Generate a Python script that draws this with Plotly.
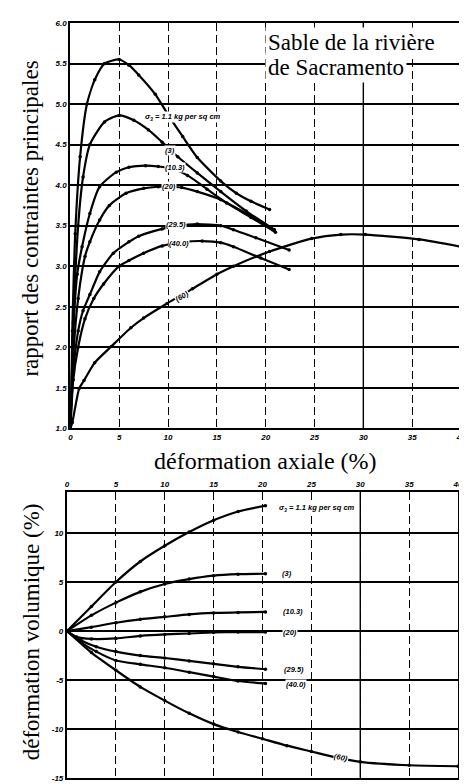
import plotly.graph_objects as go

# ---------------- data: top panel (principal stress ratio vs axial strain, %) ----------------
r11_x = [0, 0.2, 0.5, 1.0, 1.7, 2.5, 3.5, 5.0, 6.0, 7.0, 8.7, 10.0, 11.5, 13.0, 15.4, 17.0, 18.5, 20.4]
r11_y = [1.0, 2.2, 3.4, 4.35, 5.0, 5.3, 5.5, 5.55, 5.48, 5.36, 5.12, 4.87, 4.6, 4.34, 4.05, 3.9, 3.8, 3.70]
r3_x = [0, 0.3, 0.8, 1.3, 2.0, 3.5, 5.0, 6.5, 8.0, 9.4, 11.0, 13.0, 15.4, 18.0, 20.9]
r3_y = [1.0, 2.3, 3.5, 4.1, 4.5, 4.78, 4.86, 4.8, 4.68, 4.53, 4.35, 4.15, 3.92, 3.68, 3.45]
r10_x = [0, 0.3, 0.7, 1.2, 2.0, 3.0, 4.7, 6.0, 7.7, 9.0, 10.5, 12.0, 14.0, 16.0, 18.5, 21.0]
r10_y = [1.0, 2.2, 2.9, 3.24, 3.65, 3.98, 4.16, 4.22, 4.24, 4.23, 4.2, 4.12, 3.95, 3.78, 3.6, 3.42]
r20_x = [0, 0.3, 0.8, 1.5, 2.0, 3.0, 4.0, 5.7, 7.5, 9.0, 10.0, 11.4, 13.0, 15.4, 18.0, 20.7]
r20_y = [1.0, 1.9, 2.6, 3.12, 3.3, 3.57, 3.75, 3.9, 3.96, 3.98, 3.98, 3.97, 3.92, 3.82, 3.65, 3.45]
r29_x = [0, 0.3, 0.8, 1.3, 2.0, 3.0, 4.4, 6.0, 7.0, 9.4, 11.0, 13.0, 15.4, 16.7, 19.0, 22.4]
r29_y = [1.0, 1.7, 2.2, 2.45, 2.65, 2.93, 3.16, 3.3, 3.37, 3.46, 3.5, 3.52, 3.5, 3.45, 3.35, 3.2]
r40_x = [0, 0.3, 0.8, 1.5, 2.4, 3.4, 5.0, 6.0, 7.5, 9.4, 11.7, 13.5, 15.4, 16.7, 19.5, 22.4]
r40_y = [1.0, 1.6, 2.0, 2.35, 2.6, 2.78, 3.0, 3.07, 3.16, 3.25, 3.3, 3.31, 3.29, 3.24, 3.1, 2.96]
r60_x = [0, 0.2, 0.9, 1.4, 2.5, 4.2, 6.2, 7.5, 9.9, 12.5, 15.0, 16.7, 20.4, 24.7, 27.7, 30.2, 35.7, 40.0]
r60_y = [1.0, 1.07, 1.49, 1.59, 1.81, 2.01, 2.24, 2.36, 2.54, 2.72, 2.9, 3.0, 3.18, 3.34, 3.39, 3.39, 3.33, 3.24]

# ---------------- data: bottom panel (volumetric strain, %) ----------------
v_x = [0, 2.5, 5.0, 7.5, 10.0, 12.5, 15.0, 17.5, 20.3]
v11_y = [0, 2.5, 5.0, 7.1, 8.7, 10.1, 11.3, 12.2, 12.8]
v3_y = [0, 1.6, 2.9, 4.0, 4.8, 5.3, 5.65, 5.8, 5.85]
v10_y = [0, 0.4, 0.85, 1.2, 1.45, 1.7, 1.85, 1.9, 1.95]
v20_x = [0, 1.0, 2.5, 5.0, 7.5, 10.0, 12.5, 15.0, 17.5, 20.3]
v20_y = [0, -0.6, -0.8, -0.75, -0.5, -0.35, -0.25, -0.15, -0.1, -0.1]
v29_x = [0, 1.5, 3.0, 5.0, 7.5, 10.0, 12.5, 15.0, 17.5, 20.3]
v29_y = [0, -1.0, -1.6, -2.1, -2.5, -2.75, -3.05, -3.35, -3.65, -3.9]
v40_y = [0, -1.2, -2.1, -3.0, -3.4, -3.75, -4.2, -4.65, -5.1, -5.35]
v60_x = [0, 2.5, 5.0, 7.5, 10.0, 12.5, 15.0, 17.5, 20.0, 22.5, 25.0, 27.5, 30.0, 35.0, 40.0]
v60_y = [0, -2.2, -4.0, -5.7, -7.1, -8.4, -9.5, -10.3, -11.0, -11.7, -12.3, -12.9, -13.35, -13.7, -13.8]

# ---------------- labels / ticks ----------------
series_labels = ["σ<sub>3</sub> = 1.1 kg per sq cm", "(3)", "(10.3)", "(20)", "(29.5)", "(40.0)", "(60)"]
x_ticks = [0, 5, 10, 15, 20, 25, 30, 35, 40]
top_y_ticks = [1.0, 1.5, 2.0, 2.5, 3.0, 3.5, 4.0, 4.5, 5.0, 5.5, 6.0]
top_y_text = ["1.0", "1.5", "2.0", "2.5", "3.0", "3.5", "4.0", "4.5", "5.0", "5.5", "6.0"]
bot_y_ticks = [-15, -10, -5, 0, 5, 10]
bot_y_text = ["-15", "-10", "-5", "0", "5", "10"]
title_lines = ["Sable de la rivière", "de Sacramento"]
y_title_top = "rapport des contraintes principales"
x_title = "déformation axiale (%)"
y_title_bot = "déformation volumique (%)"

fig = go.Figure()

def add_curve(x, y, xa, ya):
    fig.add_trace(go.Scatter(
        x=x, y=y, xaxis=xa, yaxis=ya, mode="lines+markers",
        line=dict(color="black", width=2.2, shape="spline", smoothing=0.6),
        marker=dict(color="black", size=3.5), showlegend=False, hoverinfo="skip"))

for xs, ys in [(r11_x, r11_y), (r3_x, r3_y), (r10_x, r10_y), (r20_x, r20_y),
               (r29_x, r29_y), (r40_x, r40_y), (r60_x, r60_y)]:
    add_curve(xs, ys, "x", "y")

for xs, ys in [(v_x, v11_y), (v_x, v3_y), (v_x, v10_y), (v20_x, v20_y),
               (v29_x, v29_y), (v29_x, v40_y), (v60_x, v60_y)]:
    add_curve(xs, ys, "x2", "y2")

tickfont = dict(family="Liberation Sans", size=8, color="black", weight="bold", style="italic")
axis_common = dict(showline=True, linecolor="black", linewidth=2.2, mirror=True,
                   zeroline=False, ticks="", tickfont=tickfont, ticklabeloverflow="allow")

fig.update_layout(
    width=467, height=784,
    margin=dict(l=58, r=11, t=15, b=9),
    paper_bgcolor="white", plot_bgcolor="white",
    xaxis=dict(domain=[0.011, 1.0], range=[0, 40], anchor="y",
               tickvals=x_ticks, showgrid=True, gridcolor="black", gridwidth=1.4,
               griddash="8px,4px", **axis_common),
    yaxis=dict(domain=[0.4632, 1.0], range=[1.0, 6.0], anchor="x",
               tickvals=top_y_ticks, ticktext=top_y_text, showgrid=True,
               gridcolor="black", gridwidth=1.7, **axis_common),
    xaxis2=dict(domain=[0.0025, 0.9925], range=[0, 40], anchor="y2", side="top",
                tickvals=x_ticks, showgrid=True, gridcolor="black", gridwidth=1.4,
                griddash="8px,4px", **axis_common),
    yaxis2=dict(domain=[0.0, 0.3789], range=[-15, 14.2], anchor="x2",
                tickvals=bot_y_ticks, ticktext=bot_y_text, showgrid=True,
                gridcolor="black", gridwidth=1.7, **axis_common),
)

# solid vertical line at 30 (heavier grid line in original)
for xr, yr, y0, y1 in [("x", "y", 1.0, 6.0), ("x2", "y2", -15, 14.2)]:
    fig.add_shape(type="line", xref=xr, yref=yr, x0=30, x1=30, y0=y0, y1=y1,
                  line=dict(color="black", width=1.4), layer="below")

lab_font = dict(family="Liberation Sans", size=7.5, color="black", weight="bold", style="italic")

# curve labels, top panel: (x, y, angle, xanchor)
top_lab_pos = [(7.5, 4.84, 0, "left"), (10.2, 4.43, 0, "center"), (10.7, 4.22, 0, "center"),
               (10.1, 3.98, 0, "center"), (10.8, 3.51, 0, "center"), (11.1, 3.28, 0, "center"),
               (11.4, 2.63, -30, "center")]
for txt, (lx, ly, ang, xa) in zip(series_labels, top_lab_pos):
    fig.add_annotation(x=lx, y=ly, xref="x", yref="y", text=txt, showarrow=False,
                       font=lab_font, bgcolor="white", borderpad=0, textangle=ang, xanchor=xa)

bot_lab_pos = [(21.6, 12.6, 0, "left"), (21.9, 5.85, 0, "left"), (22.0, 1.95, 0, "left"),
               (22.0, -0.1, 0, "left"), (22.1, -3.95, 0, "left"), (22.3, -5.45, 0, "left"),
               (28.0, -12.9, 12, "center")]
for txt, (lx, ly, ang, xa) in zip(series_labels, bot_lab_pos):
    fig.add_annotation(x=lx, y=ly, xref="x2", yref="y2", text=txt, showarrow=False,
                       font=lab_font, bgcolor="white", borderpad=0, textangle=ang, xanchor=xa)

serif = "Liberation Serif"
# title box (white background breaks the grid, as in the original)
for txt, ty in zip(title_lines, [5.76, 5.45]):
    fig.add_annotation(x=19.9, y=ty, xref="x", yref="y", text=txt, showarrow=False,
                       xanchor="left", yanchor="middle", align="left", bgcolor="white",
                       borderpad=2, font=dict(family=serif, size=23, color="black"))
fig.add_annotation(x=0, y=0.741, xref="paper", yref="paper", text=y_title_top, showarrow=False,
                   textangle=-90, xanchor="center", yanchor="middle", xshift=-35,
                   font=dict(family=serif, size=23, color="black"))
fig.add_annotation(x=0.505, y=0.420, xref="paper", yref="paper", text=x_title, showarrow=False,
                   xanchor="center", yanchor="middle",
                   font=dict(family=serif, size=24, color="black"))
fig.add_annotation(x=0, y=0.193, xref="paper", yref="paper", text=y_title_bot, showarrow=False,
                   textangle=-90, xanchor="center", yanchor="middle", xshift=-35,
                   font=dict(family=serif, size=23, color="black"))

fig.write_html("out.html")
